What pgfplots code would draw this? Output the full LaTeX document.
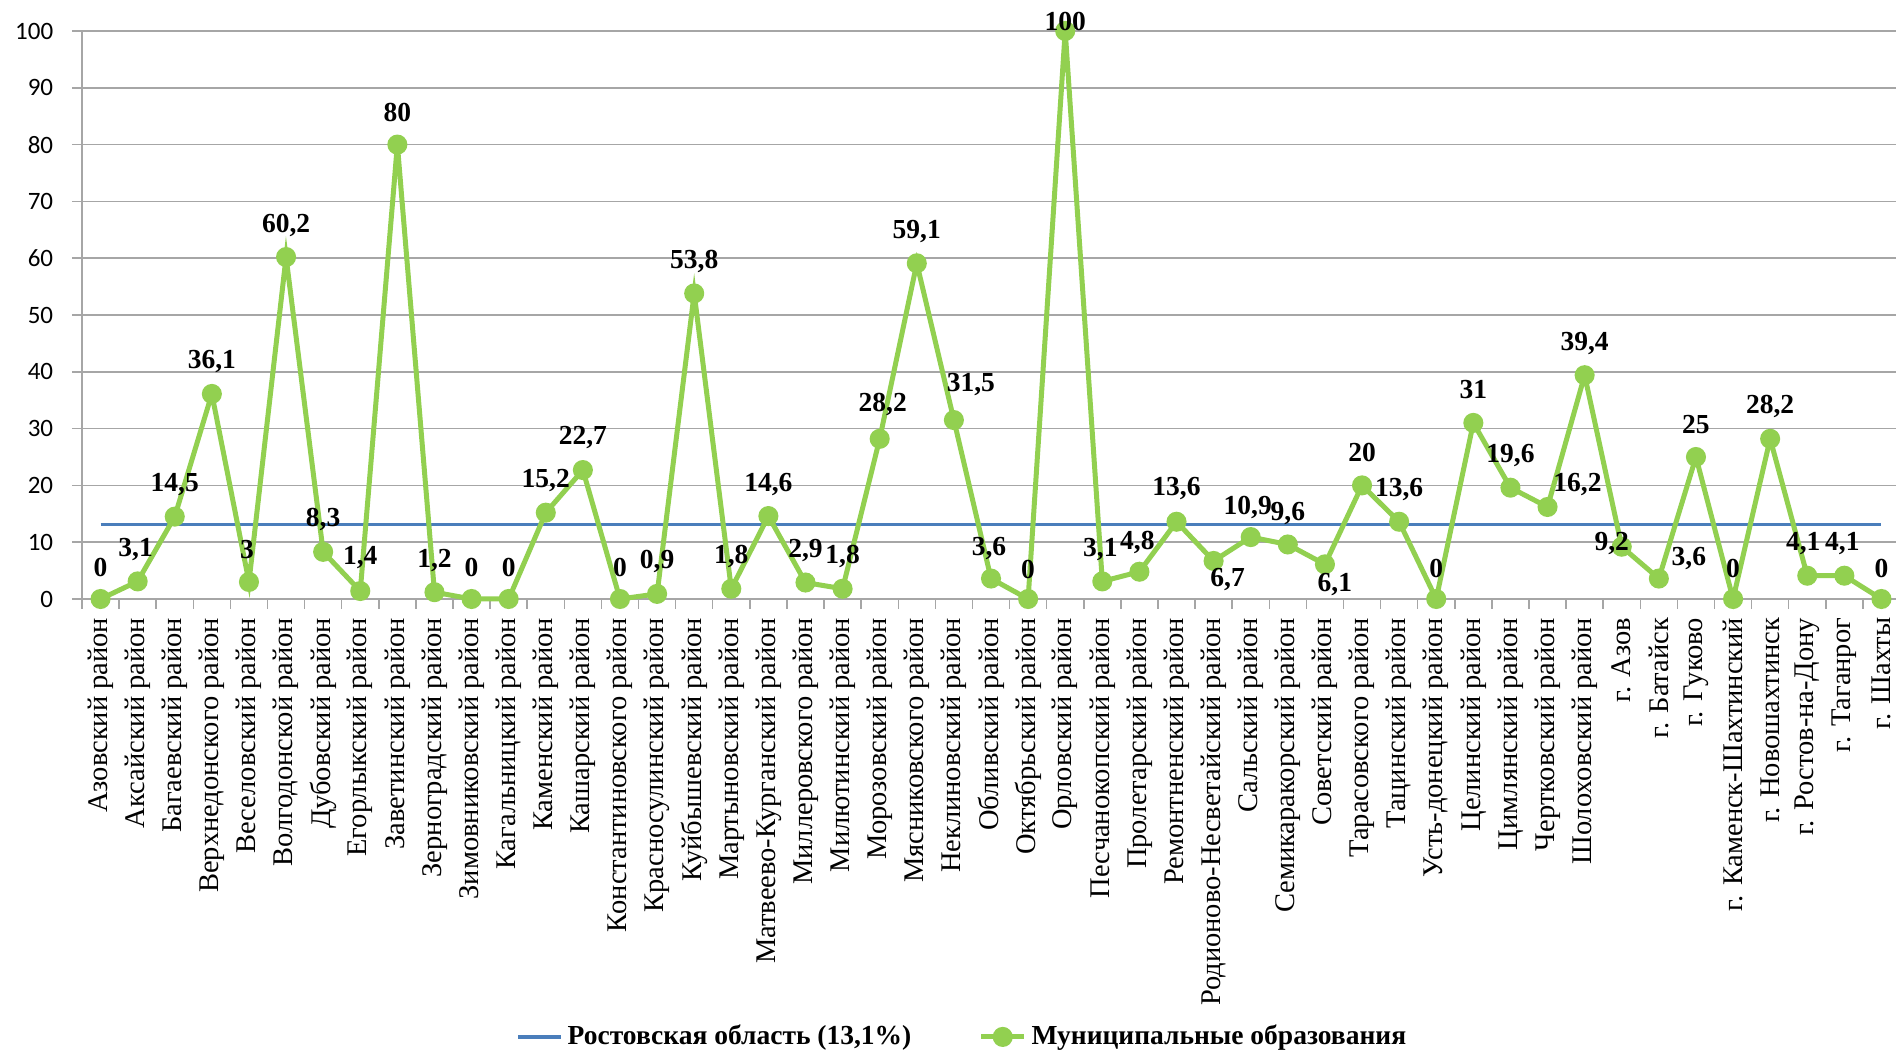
\documentclass[border=0pt]{standalone}
\usepackage{pgfplots}
\pgfplotsset{compat=1.18}
\usepackage{pgfplotstable}
\usepackage{fontspec}
\setmainfont{Liberation Serif}
\newfontfamily\carlito{Carlito}
\definecolor{mgreen}{RGB}{146,208,80}
\definecolor{mblue}{RGB}{74,126,187}
\definecolor{gridgray}{RGB}{166,166,166}

\pgfplotstableread{
x y lab dx dy
0 0 0 0 32
1 3.1 3,1 -2 32
2 14.5 14,5 0 32
3 36.1 36,1 0 32
4 3 3 -2 32
5 60.2 60,2 0 32
6 8.3 8,3 0 32
7 1.4 1,4 0 33
8 80 80 0 32
9 1.2 1,2 0 32
10 0 0 0 32
11 0 0 0 32
12 15.2 15,2 0 32
13 22.7 22,7 0 33
14 0 0 0 32
15 0.9 0,9 0 32
16 53.8 53,8 0 32
17 1.8 1,8 0 32
18 14.6 14,6 0 32
19 2.9 2,9 0 32
20 1.8 1,8 0 32
21 28.2 28,2 3 34
22 59.1 59,1 0 32
23 31.5 31,5 17 36
24 3.6 3,6 -2 30
25 0 0 0 30
26 100 100 0 9
27 3.1 3,1 -2 32
28 4.8 4,8 -2 29
29 13.6 13,6 0 33
30 6.7 6,7 14 -19
31 10.9 10,9 -3 30
32 9.6 9,6 0 31
33 6.1 6,1 10 -20
34 20 20 0 33
35 13.6 13,6 0 32
36 0 0 0 31
37 31 31 0 33
38 19.6 19,6 0 32
39 16.2 16,2 30 22
40 39.4 39,4 0 32
41 9.2 9,2 -10 3
42 3.6 3,6 30 20
43 25 25 0 32
44 0 0 0 31
45 28.2 28,2 0 32
46 4.1 4,1 -4 32
47 4.1 4,1 -2 32
48 0 0 0 31
}\data

\begin{document}
\begin{tikzpicture}
\begin{axis}[
  scale only axis, width=727.2pt, height=227.2pt,
  xmin=-0.5, xmax=48.5, ymin=0, ymax=100,
  clip=false,
  axis x line*=bottom, axis y line*=left,
  axis line style={draw=gridgray, line width=0.6pt, -},
  every outer x axis line/.append style={-},
  every outer y axis line/.append style={-},
  ytick={0,10,...,100},
  ymajorgrids, grid style={draw=gridgray, line width=0.6pt},
  tick style={draw=gridgray, line width=0.6pt},
  tick align=outside, major tick length=4pt,
  /pgf/number format/assume math mode=true,
  yticklabel style={font=\carlito\fontsize{10}{12}\selectfont, xshift=-4pt},
  xtick={-0.5,0.5,...,48.5}, xticklabels={},
  extra x ticks={0,1,...,48},
  extra x tick labels={Азовский район, Аксайский район, Багаевский район, Верхнедонского район, Веселовский район, Волгодонской район, Дубовский район, Егорлыкский район, Заветинский район, Зерноградский район, Зимовниковский район, Кагальницкий район, Каменский район, Кашарский район, Константиновского район, Красносулинский район, Куйбышевский район, Мартыновский район, Матвеево-Курганский район, Миллеровского район, Милютинский район, Морозовский район, Мясниковского район, Неклиновский район, Обливский район, Октябрьский район, Орловский район, Песчанокопский район, Пролетарский район, Ремонтненский район, Родионово-Несветайский район, Сальский район, Семикаракорский район, Советский район, Тарасовского район, Тацинский район, Усть-донецкий район, Целинский район, Цимлянский район, Чертковский район, Шолоховский район, г. Азов, г. Батайск, г. Гуково, г. Каменск-Шахтинский, г. Новошахтинск, г. Ростов-на-Дону, г. Таганрог, г. Шахты},
  extra x tick style={tick style={draw=none}, grid=none, xticklabel style={rotate=90, anchor=east, font=\fontsize{11.4}{13}\selectfont}},
  legend columns=2,
  legend style={at={(0.485,-0.771)}, anchor=center, draw=none, font=\bfseries\fontsize{11}{13}\selectfont, /tikz/every even column/.append style={column sep=25pt}},
]
\addplot[mblue, line width=1.5pt] coordinates {(0,13.1) (48,13.1)};
\addlegendentry{Ростовская область (13,1\%)}
\addplot[mgreen, line width=2pt, mark=*, mark size=3pt, mark options={fill=mgreen, draw=mgreen}]
  table[x=x, y=y] {\data};
\addlegendentry{Муниципальные образования}
\addplot[draw=none, mark=none, forget plot,
  nodes near coords, point meta=explicit symbolic,
  visualization depends on={\thisrow{dx} \as \ldx},
  visualization depends on={\thisrow{dy} \as \ldy},
  nodes near coords align={anchor=center},
  every node near coord/.append style={anchor=center, xshift=\ldx*0.4pt, yshift=\ldy*0.4pt, font=\bfseries\fontsize{11}{13}\selectfont, text=black, inner sep=0pt}]
  table[x=x, y=y, meta=lab] {\data};
\end{axis}
\pgfresetboundingbox
\path[use as bounding box] ([xshift=-32.8pt, yshift=-182pt]current axis.south west) rectangle ([xshift=-1.6pt, yshift=12.4pt]current axis.north east);
\end{tikzpicture}
\end{document}
